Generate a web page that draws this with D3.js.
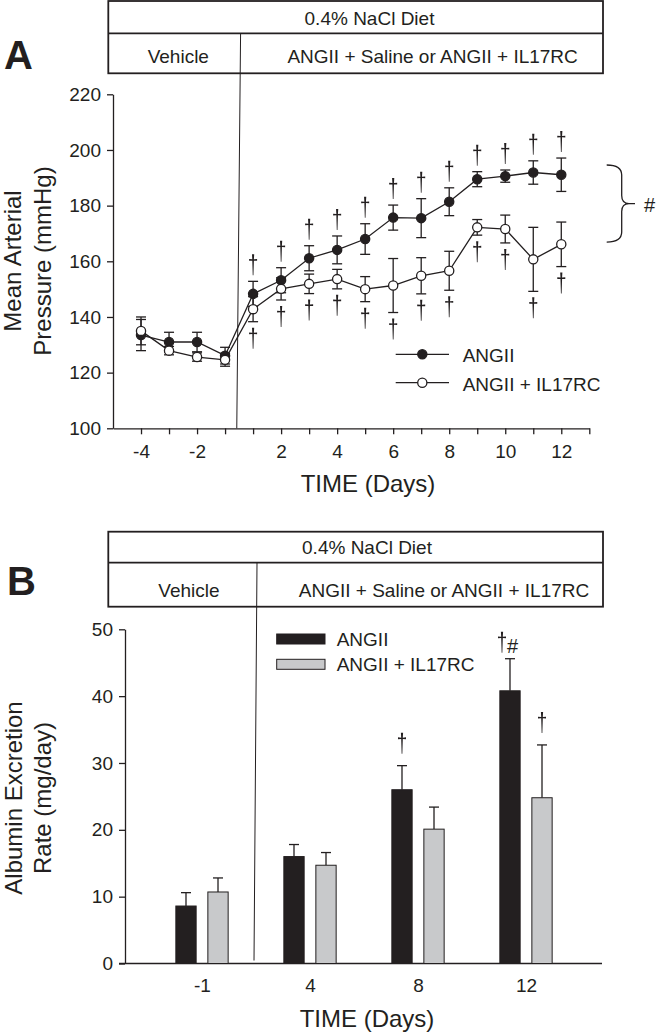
<!DOCTYPE html>
<html><head><meta charset="utf-8">
<script src="https://cdn.jsdelivr.net/npm/d3@7"></script>
<style>
html,body{margin:0;padding:0;background:#fff;}
svg{display:block;}
text{font-family:"Liberation Sans",Arial,Helvetica,sans-serif;fill:#231f20;}
</style>
</head><body>
<svg id="chart" width="658" height="1035"></svg>
<script>
// ---------------- Panel A data ----------------
const daysA = [-4,-3,-2,-1,1,2,3,4,5,6,7,8,9,10,11,12];
const angiiMAP    = [133.5,131.0,131.0,126.1,148.3,153.2,161.1,164.1,168.0,175.7,175.5,181.4,189.5,190.6,191.9,191.1];
const angiiMAPSem = [5.6,3.5,3.5,3.0,4.5,4.5,4.5,5.0,5.5,4.5,7.0,5.0,2.7,2.2,4.2,6.0];
const il17MAP     = [135.0,127.9,125.6,124.6,142.8,150.1,151.9,153.6,150.0,151.3,154.8,156.6,172.2,171.6,160.7,166.1];
const il17MAPSem  = [5.0,1.5,1.5,2.3,4.5,4.0,3.5,3.5,4.5,9.7,6.5,7.0,2.8,5.0,11.5,8.0];
const angiiMAPSig = [0,0,0,0,1,1,1,1,1,1,1,1,1,1,1,1];
const il17MAPSig  = [0,0,0,0,1,1,1,1,1,1,1,1,1,1,1,1];
const xTickDaysA  = [-4,-3,-2,-1,1,2,3,4,5,6,7,8,9,10,11,12,13];
const xLabelDaysA = [-4,-2,2,4,6,8,10,12];
const yTicksA     = [100,120,140,160,180,200,220];
const seriesNames = ["ANGII","ANGII + IL17RC"];

// ---------------- Panel B data ----------------
const catsB       = ["-1","4","8","12"];
const angiiAlb    = [8.6,16.0,26.0,40.8];
const angiiAlbSem = [2.0,1.8,3.6,4.8];
const il17Alb     = [10.7,14.7,20.1,24.8];
const il17AlbSem  = [2.1,1.9,3.3,7.9];
const angiiAlbSig = ["","","†","†#"];
const il17AlbSig  = ["","","","†"];
const yTicksB     = [0,10,20,30,40,50];

const INK = "#231f20";
const svg = d3.select("#chart");

// dagger glyph drawn as a path; (x, top) = top centre, height 21
function dagger(g, x, top){
  const p = `M-1.1,0 L1.1,0 L0.8,5 L4,4.7 L4,6.5 L0.8,6.3 L0.35,21 L-0.35,21 L-0.8,6.3 L-4,6.5 L-4,4.7 L-0.8,5 Z`;
  g.append("path").attr("d",p).attr("transform",`translate(${x},${top})`).attr("fill",INK);
}

function styleAxis(g){
  g.selectAll("path,line").attr("stroke",INK).attr("stroke-width",1.3);
  g.selectAll("text").attr("fill",INK).style("font-size","19px")
    .style("font-family",'"Liberation Sans",Arial,sans-serif');
}

function headerBox(top, mid, bottom, diet, dietX, veh, vehX, trt, trtX){
  const g = svg.append("g");
  g.append("rect").attr("x",108.3).attr("y",top).attr("width",603-108.3).attr("height",bottom-top)
    .attr("fill","none").attr("stroke",INK).attr("stroke-width",1.8);
  g.append("line").attr("x1",108.3).attr("x2",603).attr("y1",mid).attr("y2",mid)
    .attr("stroke",INK).attr("stroke-width",1.8);
  g.append("text").attr("x",dietX).attr("y",mid-8.3).attr("text-anchor","middle").style("font-size","19px").text(diet);
  g.append("text").attr("x",vehX).attr("y",bottom-10).attr("text-anchor","middle").style("font-size","19px").text(veh);
  g.append("text").attr("x",trtX).attr("y",bottom-10).style("font-size","19px").text(trt);
}

// ================= Panel A =================
const posA = d => d < 0 ? d + 1 : d;
const xA = d3.scaleLinear().domain([-4, 13]).range([113, 589.3]);
const yA = d3.scaleLinear().domain([100, 220]).range([428.3, 94.3]);

svg.append("text").attr("x",4).attr("y",68.5).style("font-size","40px").style("font-weight","bold").text("A");
headerBox(1, 33.3, 73.3, "0.4% NaCl Diet", 369.5, "Vehicle", 178.3, "ANGII + Saline or ANGII + IL17RC", 287.4);

const midA = (xA(posA(-1)) + xA(posA(1))) / 2;
svg.append("line").attr("x1",midA+1.5).attr("y1",33.3).attr("x2",midA-2.3).attr("y2",yA(100))
  .attr("stroke",INK).attr("stroke-width",1);

const gyA = svg.append("g").attr("transform",`translate(${xA(-4)},0)`)
  .call(d3.axisLeft(yA).tickValues(yTicksA).tickSize(6).tickPadding(6).tickSizeOuter(0).tickFormat(d3.format("d")));
styleAxis(gyA);
const gxA = svg.append("g").attr("transform",`translate(0,${yA(100)})`)
  .call(d3.axisBottom(xA).tickValues(xTickDaysA.map(posA)).tickSize(6).tickPadding(10.5).tickSizeOuter(0)
    .tickFormat(p => { const d = p <= 0 ? p - 1 : p; return xLabelDaysA.includes(d) ? String(d) : ""; }));
styleAxis(gxA);

svg.append("text").attr("x",368).attr("y",491.7).attr("text-anchor","middle").style("font-size","24px").text("TIME (Days)");
const ytA = svg.append("g").attr("transform","translate(0,261) rotate(-90)");
ytA.append("text").attr("x",0).attr("y",21).attr("text-anchor","middle").style("font-size","24px").text("Mean Arterial");
ytA.append("text").attr("x",0).attr("y",51).attr("text-anchor","middle").style("font-size","24px").text("Pressure (mmHg)");

const seriesA = [
  {name: seriesNames[0], mean: angiiMAP, sem: angiiMAPSem, sig: angiiMAPSig, fill: INK, above: true},
  {name: seriesNames[1], mean: il17MAP, sem: il17MAPSem, sig: il17MAPSig, fill: "#fff", above: false}
];
const lineA = d3.line().x(d => xA(posA(d.day))).y(d => yA(d.v));

seriesA.forEach(s => {
  const pts = daysA.map((day,i) => ({day, v: s.mean[i], e: s.sem[i], sig: s.sig[i]}));
  const g = svg.append("g");
  g.append("path").datum(pts).attr("d",lineA).attr("fill","none").attr("stroke",INK).attr("stroke-width",1.3);
  const eb = g.selectAll("g.eb").data(pts).join("g");
  eb.append("line").attr("x1",d=>xA(posA(d.day))).attr("x2",d=>xA(posA(d.day)))
    .attr("y1",d=>yA(d.v-d.e)).attr("y2",d=>yA(d.v+d.e)).attr("stroke",INK).attr("stroke-width",1.3);
  [1,-1].forEach(sg => eb.append("line")
    .attr("x1",d=>xA(posA(d.day))-5).attr("x2",d=>xA(posA(d.day))+5)
    .attr("y1",d=>yA(d.v+sg*d.e)).attr("y2",d=>yA(d.v+sg*d.e)).attr("stroke",INK).attr("stroke-width",1.3));
  s.pts = pts; s.g = g;
});
seriesA.forEach(s => {
  s.g.selectAll("circle").data(s.pts).join("circle")
    .attr("cx",d=>xA(posA(d.day))).attr("cy",d=>yA(d.v)).attr("r",4.6)
    .attr("fill",s.fill).attr("stroke",INK).attr("stroke-width",1.3);
  s.pts.filter(d=>d.sig).forEach(d => {
    const x = xA(posA(d.day));
    const top = s.above ? yA(d.v+d.e) - 6 - 21 : yA(d.v-d.e) + 6;
    dagger(s.g, x, top);
  });
});

// legend A
seriesA.forEach((s,i) => {
  const ly = 354.3 + i*28.4;
  svg.append("line").attr("x1",395.7).attr("x2",449).attr("y1",ly).attr("y2",ly).attr("stroke",INK).attr("stroke-width",1.3);
  svg.append("circle").attr("cx",422.3).attr("cy",ly).attr("r",4.6).attr("fill",s.fill).attr("stroke",INK).attr("stroke-width",1.3);
  svg.append("text").attr("x",462.7).attr("y",ly+8).style("font-size","19px").text(s.name);
});

// bracket with #
const bt = yA(194.6), bb = yA(166.9), bm = (bt+bb)/2;
svg.append("path")
  .attr("d",`M606.7,${bt} Q621.7,${bt} 621.7,${bt+10} L621.7,${bm-8} Q621.7,${bm} 629,${bm} L635,${bm} M629,${bm} Q621.7,${bm} 621.7,${bm+8} L621.7,${bb-10} Q621.7,${bb} 606.7,${bb}`)
  .attr("fill","none").attr("stroke",INK).attr("stroke-width",1.3);
svg.append("text").attr("x",644).attr("y",bm+8).style("font-size","20px").text("#");

// ================= Panel B =================
const yB = d3.scaleLinear().domain([0, 50]).range([963.5, 629.3]);
const xB = d3.scalePoint().domain(catsB).range([202, 526]);
const subB = d3.scaleBand().domain(seriesNames).range([-26.15, 26.15]).paddingInner(0.366);

svg.append("text").attr("x",7).attr("y",595).style("font-size","40px").style("font-weight","bold").text("B");
headerBox(531.7, 562.7, 606.7, "0.4% NaCl Diet", 367, "Vehicle", 189, "ANGII + Saline or ANGII + IL17RC", 298.8);

const midB = (xB("-1") + xB("4")) / 2;
svg.append("line").attr("x1",midB+1).attr("y1",562.7).attr("x2",midB-2).attr("y2",yB(0)-3)
  .attr("stroke",INK).attr("stroke-width",1);

const gyB = svg.append("g").attr("transform","translate(125,0)")
  .call(d3.axisLeft(yB).tickValues(yTicksB).tickSize(6).tickPadding(6).tickSizeOuter(0).tickFormat(d3.format("d")));
styleAxis(gyB);
const gxB = svg.append("g").attr("transform",`translate(0,${yB(0)})`)
  .call(d3.axisBottom(xB).tickSize(0).tickPadding(14.7));
gxB.select(".domain").remove();
styleAxis(gxB);
svg.append("line").attr("x1",119).attr("x2",602).attr("y1",yB(0)).attr("y2",yB(0)).attr("stroke",INK).attr("stroke-width",1.3);

svg.append("text").attr("x",367).attr("y",1026.7).attr("text-anchor","middle").style("font-size","24px").text("TIME (Days)");
const ytB = svg.append("g").attr("transform","translate(0,798) rotate(-90)");
ytB.append("text").attr("x",0).attr("y",22).attr("text-anchor","middle").style("font-size","24px").text("Albumin Excretion");
ytB.append("text").attr("x",0).attr("y",51).attr("text-anchor","middle").style("font-size","24px").text("Rate (mg/day)");

const seriesB = [
  {name: seriesNames[0], mean: angiiAlb, sem: angiiAlbSem, sig: angiiAlbSig, fill: INK},
  {name: seriesNames[1], mean: il17Alb, sem: il17AlbSem, sig: il17AlbSig, fill: "#c8c9cb"}
];
seriesB.forEach(s => {
  const data = catsB.map((c,i) => ({c, v: s.mean[i], e: s.sem[i], sig: s.sig[i]}));
  const g = svg.append("g");
  const cx = d => xB(d.c) + subB(s.name) + subB.bandwidth()/2;
  g.selectAll("line.eb").data(data).join("line").attr("class","eb")
    .attr("x1",cx).attr("x2",cx).attr("y1",d=>yB(d.v)).attr("y2",d=>yB(d.v+d.e)).attr("stroke",INK).attr("stroke-width",1.3);
  g.selectAll("line.cap").data(data).join("line").attr("class","cap")
    .attr("x1",d=>cx(d)-5).attr("x2",d=>cx(d)+5).attr("y1",d=>yB(d.v+d.e)).attr("y2",d=>yB(d.v+d.e)).attr("stroke",INK).attr("stroke-width",1.3);
  g.selectAll("rect").data(data).join("rect")
    .attr("x",d=>xB(d.c)+subB(s.name)).attr("width",subB.bandwidth())
    .attr("y",d=>yB(d.v)).attr("height",d=>yB(0)-yB(d.v))
    .attr("fill",s.fill).attr("stroke",INK).attr("stroke-width",1);
  data.filter(d=>d.sig).forEach(d => {
    const hasHash = d.sig.includes("#");
    const x = cx(d);
    const bottom = yB(d.v+d.e) - (hasHash ? 6 : 12);
    dagger(g, hasHash ? x - 8 : x, bottom - 21);
    if (hasHash) g.append("text").attr("x",x-3).attr("y",bottom).style("font-size","20px").text("#");
  });
});

// legend B
seriesB.forEach((s,i) => {
  const ly = 634 + i*25.3;
  svg.append("rect").attr("x",276.7).attr("y",ly).attr("width",48.3).attr("height",10)
    .attr("fill",s.fill).attr("stroke",INK).attr("stroke-width",1);
  svg.append("text").attr("x",336.7).attr("y",ly+12).style("font-size","19px").text(s.name);
});
</script>
</body></html>
